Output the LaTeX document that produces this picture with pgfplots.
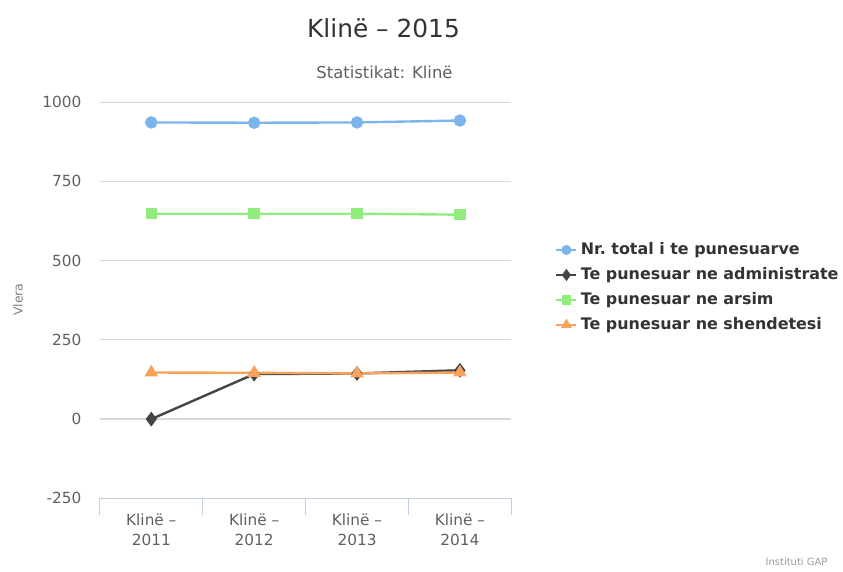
\documentclass[border=0pt]{standalone}
\usepackage{pgfplots}
\pgfplotsset{compat=1.18}
\usepackage{fontspec}
\setmainfont{DejaVu Sans}
\definecolor{sblue}{HTML}{7CB5EC}
\definecolor{sblack}{HTML}{434348}
\definecolor{sgreen}{HTML}{90ED7D}
\definecolor{sorange}{HTML}{F7A35C}
\definecolor{gridc}{HTML}{D8D8D8}
\definecolor{axc}{HTML}{C0D0E0}
\definecolor{labc}{HTML}{606060}
\definecolor{titc}{HTML}{333333}
\begin{document}
\begin{tikzpicture}[x=1bp,y=1bp]
\path (0,0) rectangle (843,572);
\node[text=titc,font=\fontsize{25}{30}\selectfont] at (384,544) {Klinë – 2015};
\node[text=labc,font=\fontsize{16.5}{20}\selectfont] at (385,500) {Statistikat: Klinë};
\node[text=labc!80,rotate=90,font=\fontsize{12.5}{15}\selectfont] at (18,272) {Vlera};
\node[text=black!40,anchor=east,font=\fontsize{10}{12}\selectfont] at (832,9) {Instituti GAP};
\begin{axis}[
  at={(100bp,73bp)}, anchor=south west,
  scale only axis, width=412bp, height=396.7bp,
  xmin=-0.5, xmax=3.5, ymin=-250, ymax=1000,
  ytick={-250,0,...,1000},
  /pgf/number format/assume math mode=true,
  /pgf/number format/1000 sep={},
  xtick={0,1,2,3},
  xticklabels={{Klinë –\\[2bp]2011},{Klinë –\\[2bp]2012},{Klinë –\\[2bp]2013},{Klinë –\\[2bp]2014}},
  extra x ticks={-0.5,0.5,1.5,2.5,3.5},
  extra x tick labels={},
  extra x tick style={major tick length=17bp, xtick align=outside, major tick style={draw=axc, line width=1.2bp}},
  major tick length=0pt,
  axis x line*=bottom, axis y line*=left,
  y axis line style={draw=none},
  x axis line style={-, draw=axc, line width=1.4bp},
  ymajorgrids, grid style={gridc, line width=1.2bp},
  tick label style={text=labc, font=\fontsize{15.4}{18}\selectfont},
  xticklabel style={align=center, yshift=-12bp},
  yticklabel style={xshift=-15bp},
  legend style={draw=none, fill=none, at={(1.0995,0.655)}, anchor=north west,
    font=\bfseries\fontsize{16}{19}\selectfont, text=titc, row sep=7bp,
    nodes={inner sep=1.5bp, text height=12bp, text depth=3bp},
    /tikz/every odd column/.style={column sep=2bp}},
  legend cell align=left,
  legend image code/.code={\draw[mark repeat=2,mark phase=2] plot coordinates {(0bp,0bp)(10bp,0bp)(20bp,0bp)};},
  legend image post style={line width=2bp, every mark/.append style={scale=0.8}},
  every axis plot/.append style={line width=2.4bp},
]
\addplot[color=sblue, mark=*, mark size=5bp, mark options={draw=none,fill=sblue}] coordinates {(0,936) (1,935) (2,936) (3,942)};
\addlegendentry{Nr.\ total i te punesuarve}
\addplot[color=sblack, mark=diamond*, mark size=5.5bp, mark options={draw=none,fill=sblack}] coordinates {(0,0) (1,142) (2,144) (3,154)};
\addlegendentry{Te punesuar ne administrate}
\addplot[color=sgreen, mark=square*, mark size=4.5bp, mark options={draw=none,fill=sgreen}] coordinates {(0,648) (1,648) (2,648) (3,645)};
\addlegendentry{Te punesuar ne arsim}
\addplot[color=sorange, mark=triangle*, mark size=5.5bp, mark options={draw=none,fill=sorange}] coordinates {(0,147) (1,146) (2,144) (3,147)};
\addlegendentry{Te punesuar ne shendetesi}
\end{axis}
\end{tikzpicture}
\end{document}
